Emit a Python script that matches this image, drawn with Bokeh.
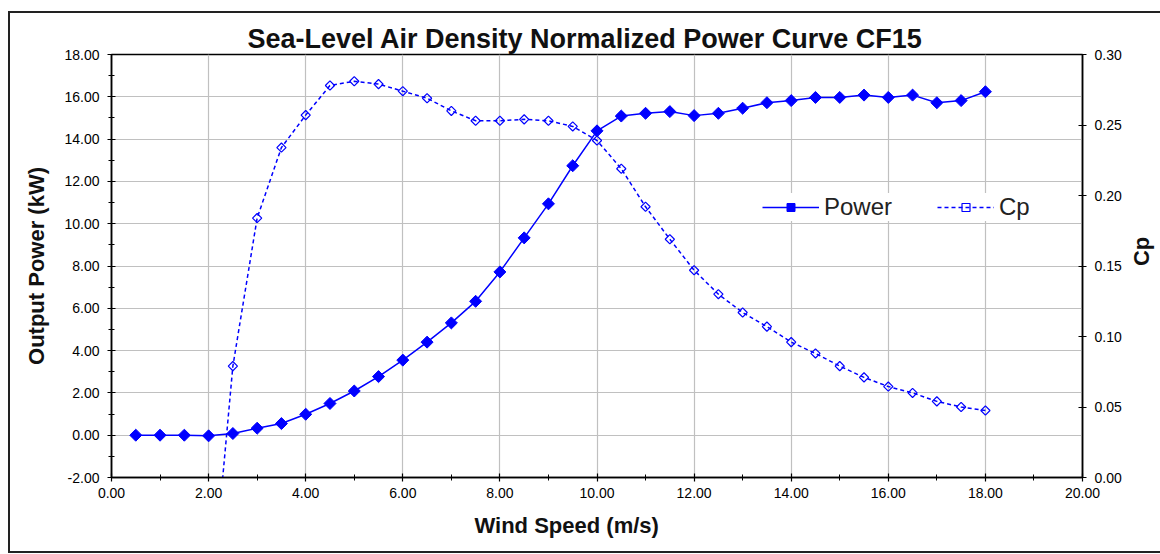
import math
from bokeh.plotting import figure
from bokeh.layouts import column
from bokeh.models import (Range1d, LinearAxis, SingleIntervalTicker, FixedTicker,
                          PrintfTickFormatter, Legend, LegendItem, Title)
from bokeh.embed import file_html
from bokeh.resources import INLINE

nan = float("nan")

# ---- data ----
wind_speed = [0.5, 1.0, 1.5, 2.0, 2.5, 3.0, 3.5, 4.0, 4.5, 5.0, 5.5, 6.0,
              6.5, 7.0, 7.5, 8.0, 8.5, 9.0, 9.5, 10.0, 10.5, 11.0, 11.5, 12.0,
              12.5, 13.0, 13.5, 14.0, 14.5, 15.0, 15.5, 16.0, 16.5, 17.0, 17.5, 18.0]
power_kw = [0.0, 0.0, 0.0, -0.03, 0.08, 0.33, 0.55, 0.99, 1.50, 2.09, 2.77, 3.55,
            4.40, 5.31, 6.33, 7.72, 9.33, 10.94, 12.74, 14.39, 15.09, 15.22, 15.30, 15.11,
            15.22, 15.46, 15.72, 15.82, 15.97, 15.97, 16.08, 15.97, 16.08, 15.72, 15.82, 16.24]
cp = [nan, nan, nan, -0.11, 0.079, 0.184, 0.234, 0.257, 0.278, 0.281, 0.279, 0.274,
      0.269, 0.260, 0.253, 0.253, 0.254, 0.253, 0.249, 0.239, 0.219, 0.192, 0.169, 0.147,
      0.130, 0.117, 0.107, 0.096, 0.088, 0.079, 0.071, 0.0645, 0.060, 0.054, 0.050, 0.0475]
cp_ticks = [0.0, 0.05, 0.10, 0.15, 0.20, 0.25, 0.30]

title_text = "Sea-Level Air Density Normalized Power Curve CF15"
x_label = "Wind Speed (m/s)"
y_label = "Output Power (kW)"
y2_label = "Cp"
series_names = ["Power", "Cp"]

FONT = "Liberation Sans"
BLUE = "#0000ff"

p = figure(width=1160, height=538, output_backend="svg", toolbar_location=None,
           x_range=Range1d(0, 20), y_range=Range1d(-2, 18),
           min_border_left=101, min_border_right=88, min_border_top=41, min_border_bottom=74,
           background_fill_color="white", border_fill_color="white")
p.extra_y_ranges = {"cp": Range1d(0, 0.30)}

p.outline_line_color = "black"
p.outline_line_width = 1.5

# axes
xa = p.xaxis[0]
xa.ticker = SingleIntervalTicker(interval=2, num_minor_ticks=2)
ya = p.yaxis[0]
ya.ticker = SingleIntervalTicker(interval=2, num_minor_ticks=2)
ya2 = LinearAxis(y_range_name="cp", ticker=FixedTicker(ticks=cp_ticks))
p.add_layout(ya2, "right")

for ax in (xa, ya, ya2):
    ax.formatter = PrintfTickFormatter(format="%.2f")
    ax.axis_line_color = "black"
    ax.axis_line_width = 1.5
    ax.major_tick_line_color = "black"
    ax.major_tick_line_width = 1.2
    ax.major_tick_in = 4
    ax.major_tick_out = 4
    ax.minor_tick_line_color = "black"
    ax.minor_tick_in = 3
    ax.minor_tick_out = 3
    ax.major_label_text_font = FONT
    ax.major_label_text_font_size = "14px"
    ax.major_label_text_color = "black"
    ax.major_label_standoff = 8
ya2.minor_tick_line_color = None
xa.major_label_standoff = 6

for ax, lab in ((ya, y_label), (ya2, y2_label)):
    ax.axis_label = lab
    ax.axis_label_text_font = FONT
    ax.axis_label_text_font_style = "bold"
    ax.axis_label_text_font_size = "22px"
    ax.axis_label_text_color = "#111111"
ya.axis_label_standoff = 12
ya2.axis_label_standoff = 17
if "axis_label_orientation" in ya2.properties():
    ya2.axis_label_orientation = math.pi / 2

p.xgrid.grid_line_color = "#c0c0c0"
p.ygrid.grid_line_color = "#c0c0c0"
p.xgrid.grid_line_width = 1.2
p.ygrid.grid_line_width = 1.2

# series
pl = p.line(wind_speed, power_kw, line_color=BLUE, line_width=1.5)
ps = p.scatter(wind_speed, power_kw, marker="square", angle=math.pi / 4, size=8.5,
               fill_color=BLUE, line_color=BLUE)
cl = p.line(wind_speed, cp, y_range_name="cp", line_color=BLUE, line_width=1.5, line_dash="4 3")
cs = p.scatter(wind_speed, cp, y_range_name="cp", marker="square", angle=math.pi / 4, size=6.5,
               fill_color=None, line_color=BLUE, line_width=1.2)

legend = Legend(items=[LegendItem(label=series_names[0], renderers=[pl, ps]),
                       LegendItem(label=series_names[1], renderers=[cl, cs])],
                orientation="horizontal", location=(651, 256),
                border_line_color=None, background_fill_color="white", background_fill_alpha=1,
                label_text_font=FONT, label_text_font_size="24px", label_text_color="#222222",
                glyph_width=57, glyph_height=20, label_standoff=5, spacing=45, padding=4, margin=0)
p.add_layout(legend)

# title above, x label below (as titles so they can sit outside the frame)
p.title = Title(text=title_text, align="left", offset=136, standoff=2,
                text_font=FONT, text_font_style="bold", text_font_size="27px", text_color="#111111")
p.add_layout(Title(text=x_label, align="left", offset=363, standoff=24, vertical_align="top",
                   text_font=FONT, text_font_style="bold", text_font_size="22px",
                   text_color="#111111"), "below")

page = column(p, styles={"margin-left": "8px", "margin-top": "11px",
                         "border-left": "2px solid #222222", "border-top": "2px solid #222222",
                         "border-bottom": "2px solid #222222"})

open("out.html", "w").write(file_html(page, INLINE))
